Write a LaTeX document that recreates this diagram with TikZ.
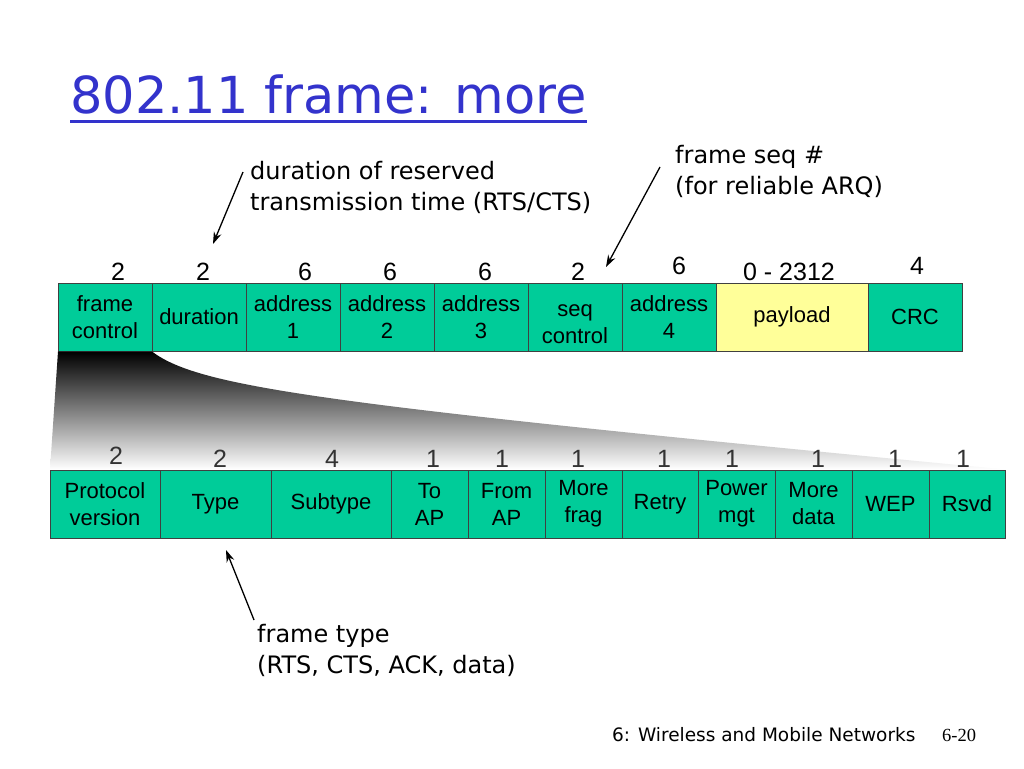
\documentclass[tikz,border=0pt]{standalone}
\usepackage{fontspec}
\setmainfont{Liberation Sans}
\newfontfamily\notefont{DejaVu Sans}
\newfontfamily\pagefont{Liberation Serif}
\usetikzlibrary{positioning,arrows.meta}
\definecolor{fieldgreen}{RGB}{0,204,153}
\definecolor{payloadyellow}{RGB}{255,255,153}
\definecolor{titleblue}{RGB}{51,51,204}

\begin{document}
\begin{tikzpicture}[
  x = 1pt, y = -1pt,
  field/.style = {draw = black!75, fill = fieldgreen, minimum height = 68pt,
                  inner sep = 0pt, outer sep = 0pt, align = center,
                  font = \fontsize{22}{27}\selectfont, anchor = north west},
  bits/.style = {font = \fontsize{25}{30}\selectfont, anchor = base, inner sep = 0pt},
  note/.style = {font = \notefont\fontsize{24}{31}\selectfont, align = left,
                 anchor = north west, inner sep = 0pt},
  pointer/.style = {-{Stealth[length = 12pt, width = 8pt]}, line width = 1.3pt},
  ]
  \path[use as bounding box, fill = white] (0,0) rectangle (1024,768);

  % title
  \node[font = \notefont\fontsize{51}{60}\selectfont, text = titleblue,
        anchor = base west, inner sep = 0pt] (title) at (70,113) {802.11 frame: more};
  \draw[titleblue, line width = 3pt]
    ([yshift = -8pt]title.base west) -- ([yshift = -8pt]title.base east);

  % frame fields
  \node[field, minimum width = 94pt] (fc) at (58,283) {frame\\control};
  \node[field, minimum width = 94pt, right = 0pt of fc] (dur) {duration};
  \node[field, minimum width = 94pt, right = 0pt of dur] (addr1) {address\\1};
  \node[field, minimum width = 94pt, right = 0pt of addr1] (addr2) {address\\2};
  \node[field, minimum width = 94pt, right = 0pt of addr2] (addr3) {address\\3};
  \node[field, minimum width = 94pt, right = 0pt of addr3] (seq) {\rule{0pt}{26pt}seq\\control};
  \node[field, minimum width = 94pt, right = 0pt of seq] (addr4) {address\\4};
  \node[field, minimum width = 152pt, right = 0pt of addr4, fill = payloadyellow] (payload) {payload};
  \node[field, minimum width = 94pt, right = 0pt of payload] (crc) {CRC};

  % frame control bits
  \node[field, minimum width = 110pt] (proto) at (50,470) {Protocol\\version};
  \node[field, minimum width = 111pt, right = 0pt of proto] (type) {Type};
  \node[field, minimum width = 120pt, right = 0pt of type] (subtype) {Subtype};
  \node[field, minimum width = 77pt, right = 0pt of subtype] (toap) {To\\AP};
  \node[field, minimum width = 77pt, right = 0pt of toap] (fromap) {From\\AP};
  \node[field, minimum width = 77pt, right = 0pt of fromap] (morefrag) {More\\frag};
  \node[field, minimum width = 76pt, right = 0pt of morefrag] (retry) {Retry};
  \node[field, minimum width = 77pt, right = 0pt of retry] (pwrmgt) {Power\\mgt};
  \node[field, minimum width = 77pt, right = 0pt of pwrmgt] (moredata) {More\\data};
  \node[field, minimum width = 77pt, right = 0pt of moredata] (wep) {WEP};
  \node[field, minimum width = 76pt, right = 0pt of wep] (rsvd) {Rsvd};

  % zoom from frame control down to its bits
  \shade[top color = black, bottom color = white]
    ([yshift = -0.5pt]fc.south west) -- ([yshift = -0.5pt]fc.south east)
    .. controls (200,388) and (330,405) .. ([yshift = 0.5pt]rsvd.north east)
    -- ([yshift = 0.5pt]proto.north west) -- cycle;

  % field sizes (bytes)
  \node[bits] (b-fc) at (118,280) {2};
  \node[bits] (b-dur) at (203,280) {2};
  \node[bits] (b-addr1) at (305,280) {6};
  \node[bits] (b-addr2) at (390,280) {6};
  \node[bits] (b-addr3) at (485,280) {6};
  \node[bits] (b-seq) at (578,280) {2};
  \node[bits] (b-addr4) at (679,274) {6};
  \node[bits] (b-payload) at (789,280) {0 - 2312};
  \node[bits] (b-crc) at (917,274) {4};

  % field sizes (bits)
  \node[bits, text = black!80] (b-proto) at (116,464) {2};
  \node[bits, text = black!80] (b-type) at (220,467) {2};
  \node[bits, text = black!80] (b-subtype) at (332,467) {4};
  \node[bits, text = black!80] (b-toap) at (433,467) {1};
  \node[bits, text = black!80] (b-fromap) at (502,467) {1};
  \node[bits, text = black!80] (b-morefrag) at (578,467) {1};
  \node[bits, text = black!80] (b-retry) at (664,467) {1};
  \node[bits, text = black!80] (b-pwrmgt) at (732,467) {1};
  \node[bits, text = black!80] (b-moredata) at (818,467) {1};
  \node[bits, text = black!80] (b-wep) at (895,467) {1};
  \node[bits, text = black!80] (b-rsvd) at (963,467) {1};

  % notes
  \node[note] (durnote) at (250,161) {duration of reserved\\transmission time (RTS/CTS)};
  \node[note] (seqnote) at (675,145) {frame seq \#\\(for reliable ARQ)};
  \node[note] (typenote) at (257,624) {frame type\\(RTS, CTS, ACK, data)};

  \coordinate (durtail) at (243,172);
  \coordinate (durtip) at (213,244);
  \coordinate (seqtail) at (660,167);
  \coordinate (seqtip) at (606,267);
  \coordinate (typetail) at (254,620);
  \coordinate (typetip) at (226,550);
  \draw[pointer] (durtail) -- (durtip);
  \draw[pointer] (seqtail) -- (seqtip);
  \draw[pointer] (typetail) -- (typetip);

  % footer
  \node[font = \notefont\fontsize{18.5}{22}\selectfont, anchor = base west, inner sep = 0pt]
    (chapter) at (612,741) {6: Wireless and Mobile Networks};
  \node[font = \pagefont\fontsize{18.5}{22}\selectfont, anchor = base west, inner sep = 0pt]
    (pageno) at (942,741) {6-20};
\end{tikzpicture}
\end{document}
